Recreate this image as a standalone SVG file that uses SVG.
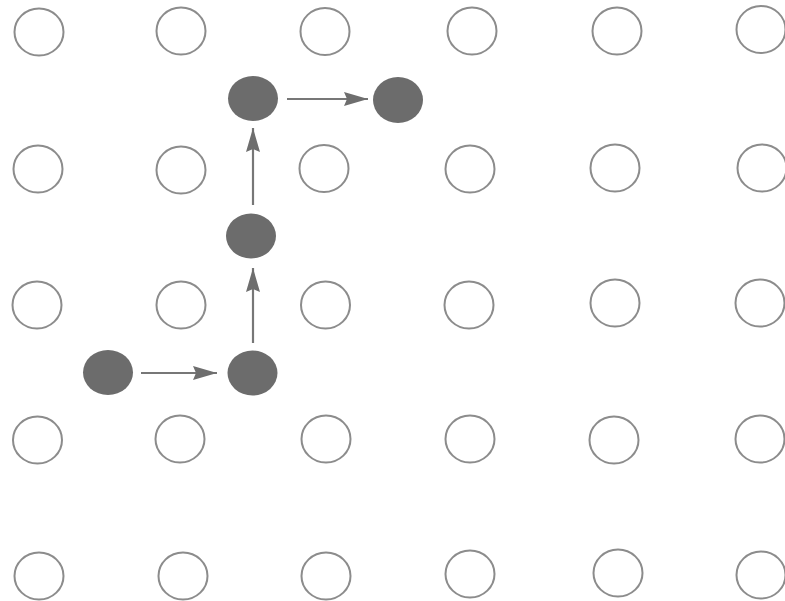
<svg xmlns="http://www.w3.org/2000/svg" width="785" height="601" viewBox="0 0 785 601">
<style>
.open{fill:none;stroke:#8c8c8c;stroke-width:2}
.full{fill:#6c6c6c;stroke:none}
.conn{stroke:#777777;stroke-width:2.2;fill:none}
</style>
<defs>
<marker id="ah" markerUnits="userSpaceOnUse" markerWidth="26" markerHeight="16" refX="24" refY="7" orient="auto">
<path d="M0,0 L24,7 L0,14 L3,7 Z" fill="#6e6e6e"/>
</marker>
</defs>
<rect width="785" height="601" fill="#ffffff"/>
<g id="grid">
<ellipse id="o11" class="open" cx="39" cy="32" rx="24.5" ry="23.5"/>
<ellipse id="o12" class="open" cx="181" cy="31" rx="24.5" ry="23.5"/>
<ellipse id="o13" class="open" cx="325" cy="31.5" rx="24.5" ry="23.5"/>
<ellipse id="o14" class="open" cx="472" cy="31" rx="24.5" ry="23.5"/>
<ellipse id="o15" class="open" cx="617" cy="31" rx="24.5" ry="23.5"/>
<ellipse id="o16" class="open" cx="761" cy="29.5" rx="24.5" ry="23.5"/>
<ellipse id="o21" class="open" cx="38" cy="169" rx="24.5" ry="23.5"/>
<ellipse id="o22" class="open" cx="181" cy="170" rx="24.5" ry="23.5"/>
<ellipse id="o23" class="open" cx="324" cy="168.5" rx="24.5" ry="23.5"/>
<ellipse id="o24" class="open" cx="470" cy="169" rx="24.5" ry="23.5"/>
<ellipse id="o25" class="open" cx="615" cy="168" rx="24.5" ry="23.5"/>
<ellipse id="o26" class="open" cx="762" cy="168" rx="24.5" ry="23.5"/>
<ellipse id="o31" class="open" cx="37" cy="305" rx="24.5" ry="23.5"/>
<ellipse id="o32" class="open" cx="181" cy="305" rx="24.5" ry="23.5"/>
<ellipse id="o33" class="open" cx="325.5" cy="305" rx="24.5" ry="23.5"/>
<ellipse id="o34" class="open" cx="469" cy="305" rx="24.5" ry="23.5"/>
<ellipse id="o35" class="open" cx="615" cy="303" rx="24.5" ry="23.5"/>
<ellipse id="o36" class="open" cx="760" cy="303" rx="24.5" ry="23.5"/>
<ellipse id="o41" class="open" cx="37.5" cy="440" rx="24.5" ry="23.5"/>
<ellipse id="o42" class="open" cx="180" cy="439" rx="24.5" ry="23.5"/>
<ellipse id="o43" class="open" cx="326" cy="439" rx="24.5" ry="23.5"/>
<ellipse id="o44" class="open" cx="470" cy="439" rx="24.5" ry="23.5"/>
<ellipse id="o45" class="open" cx="614" cy="440" rx="24.5" ry="23.5"/>
<ellipse id="o46" class="open" cx="760" cy="439" rx="24.5" ry="23.5"/>
<ellipse id="o51" class="open" cx="39" cy="576" rx="24.5" ry="23.5"/>
<ellipse id="o52" class="open" cx="183" cy="576" rx="24.5" ry="23.5"/>
<ellipse id="o53" class="open" cx="326" cy="576" rx="24.5" ry="23.5"/>
<ellipse id="o54" class="open" cx="470" cy="574" rx="24.5" ry="23.5"/>
<ellipse id="o55" class="open" cx="618" cy="573" rx="24.5" ry="23.5"/>
<ellipse id="o56" class="open" cx="761" cy="575" rx="24.5" ry="23.5"/>
</g>
<g id="f1"><ellipse class="full" cx="108" cy="372.5" rx="25" ry="22.5"/></g>
<g id="f2"><ellipse class="full" cx="252.5" cy="373" rx="25" ry="22.5"/></g>
<g id="f3"><ellipse class="full" cx="251" cy="236" rx="25" ry="22.5"/></g>
<g id="f4"><ellipse class="full" cx="253" cy="98.5" rx="25" ry="22.5"/></g>
<g id="f5"><ellipse class="full" cx="398" cy="100" rx="25" ry="23"/></g>
<g id="connectors">
<line class="conn" x1="141" y1="373" x2="217" y2="373" marker-end="url(#ah)"/>
<line class="conn" x1="253" y1="343" x2="253" y2="268" marker-end="url(#ah)"/>
<line class="conn" x1="253" y1="205" x2="253" y2="128" marker-end="url(#ah)"/>
<line class="conn" x1="287" y1="99" x2="368" y2="99" marker-end="url(#ah)"/>
</g>
</svg>
